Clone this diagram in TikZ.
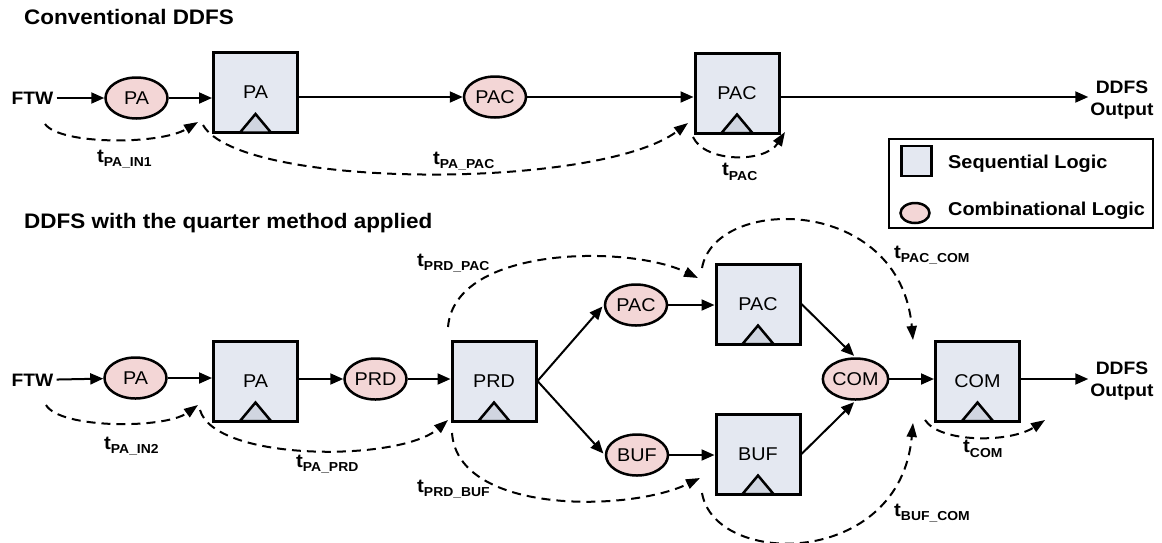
\documentclass[tikz,border=0pt]{standalone}
\usepackage{fontspec}
\setmainfont{Liberation Sans}[FakeStretch=1.07]
\usetikzlibrary{shapes.geometric,arrows.meta}
\definecolor{seqfill}{RGB}{228,232,241}
\definecolor{combfill}{RGB}{243,214,214}
\definecolor{trifill}{RGB}{208,213,224}
\newcommand{\tlab}[1]{t\raisebox{-0.25em}{\fontsize{13}{13}\selectfont #1}}
\begin{document}
\begin{tikzpicture}[x=1pt,y=-1pt,
 seqbox/.style={draw, line width=3pt, fill=seqfill, minimum width=84pt, minimum height=80pt, inner sep=0pt, font=\fontsize{18.5}{18.5}\selectfont},
 combo/.style={ellipse, draw, line width=2.5pt, fill=combfill, minimum width=62pt, minimum height=41pt, inner sep=0pt, font=\fontsize{18.5}{18.5}\selectfont},
 flow/.style={line width=2pt, -{Triangle[length=13pt,width=11pt]}},
 timing/.style={line width=2pt, dash pattern=on 9pt off 6pt, -{Triangle[length=14pt,width=10pt]}},
 tlabel/.style={anchor=west, inner sep=0pt, font=\bfseries\fontsize{19}{19}\selectfont},
 boldtxt/.style={inner sep=0pt, font=\bfseries\fontsize{18}{18}\selectfont},
 legtxt/.style={anchor=base west, inner sep=0pt, font=\bfseries\fontsize{18.6}{18.6}\selectfont},
 outtxt/.style={align=center, inner sep=2pt, font=\bfseries\fontsize{18}{22}\selectfont},
 ttl/.style={anchor=base west, inner sep=0pt, font=\bfseries\fontsize{21}{21}\selectfont},
 tri/.style={line width=2.5pt, fill=trifill, line join=miter},
]
\useasboundingbox (0,0) rectangle (1162,542);

% titles
\node[ttl] (title1) at (24,24.5) {Conventional DDFS};
\node[ttl] (title2) at (24,228) {DDFS with the quarter method applied};

% ---------- top row ----------
\node[boldtxt, inner sep=3pt] (ftw1) at (32.5,98) {FTW};
\node[combo] (pa1e) at (136.5,98) {PA};
\node[seqbox] (pa1b) at (255.5,92.5) {PA};
\node[combo] (pac1e) at (495,97) {PAC};
\node[seqbox] (pac1b) at (737,93) {PAC};
\node[outtxt] (out1) at (1122,100.5) {DDFS\\Output};

\draw[flow] (ftw1) -- (pa1e);
\draw[flow] (pa1e) -- (pa1b.west |- pa1e.east);
\draw[flow] (pa1b.east |- pac1e.west) -- (pac1e);
\draw[flow] (pac1e) -- (pac1b.west |- pac1e.east);
\draw[flow] (pac1b.east |- pac1e.east) -- (out1.west |- pac1e.east);

% ---------- bottom row ----------
\node[boldtxt, inner sep=3pt] (ftw2) at (32.5,380) {FTW};
\node[combo] (pa2e) at (135.5,378) {PA};
\node[seqbox] (pa2b) at (255.5,381) {PA};
\node[combo] (prd2e) at (375.5,379) {PRD};
\node[seqbox] (prd2b) at (494,381) {PRD};
\node[combo] (pac2e) at (636,305) {PAC};
\node[combo] (buf2e) at (637,455) {BUF};
\node[seqbox] (pac2b) at (758,304) {PAC};
\node[seqbox] (buf2b) at (758,454) {BUF};
\node[combo] (com2e) at (855.5,379) {COM};
\node[seqbox] (com2b) at (977.5,381) {COM};
\node[outtxt] (out2) at (1122,381.5) {DDFS\\Output};

\draw[flow] (ftw2) -- (pa2e);
\draw[flow] (pa2e) -- (pa2b.west |- pa2e.east);
\draw[flow] (pa2b.east |- prd2e.west) -- (prd2e);
\draw[flow] (prd2e) -- (prd2b.west |- prd2e.east);
\draw[flow, shorten >=2pt] (prd2b.east) -- (pac2e.west);
\draw[flow, shorten >=2pt] (prd2b.east) -- (buf2e.west);
\draw[flow] (pac2e) -- (pac2b.west |- pac2e.east);
\draw[flow] (buf2e) -- (buf2b.west |- buf2e.east);
\draw[flow, shorten >=2pt] (pac2b.east) -- (com2e.north);
\draw[flow, shorten >=2pt] (buf2b.east) -- (com2e.south);
\draw[flow] (com2e) -- (com2b.west |- com2e.east);
\draw[flow] (com2b.east |- com2e.east) -- (out2.west |- com2e.east);

% clock triangles
\foreach \b in {pa1b,pac1b,pa2b,prd2b,pac2b,buf2b,com2b}
  \filldraw[tri] ([xshift=-15.5pt,yshift=1.5pt]\b.south) -- ([yshift=20pt]\b.south) -- ([xshift=15.5pt,yshift=1.5pt]\b.south) -- cycle;

% ---------- timing paths (top) ----------
\coordinate (a1s) at (45,124);   \coordinate (a1e) at (198,122);
\coordinate (a2s) at (203,125);  \coordinate (a2e) at (688,123);
\coordinate (a3s) at (693,137);  \coordinate (a3e) at (785,132);
\draw[timing] (a1s) .. controls (60,145) and (160,145) .. (a1e);
\draw[timing] (a2s) .. controls (240,190) and (600,190) .. (a2e);
\draw[timing] (a3s) .. controls (705,163) and (765,163) .. (a3e);
\node[tlabel] (l1) at (97,159) {\tlab{PA\_IN1}};
\node[tlabel] (l2) at (433,161) {\tlab{PA\_PAC}};
\node[tlabel] (l3) at (722,172) {\tlab{PAC}};

% ---------- timing paths (bottom) ----------
\coordinate (b1s) at (46,405);   \coordinate (b1e) at (198,405);
\coordinate (b2s) at (200,410);  \coordinate (b2e) at (448,420);
\coordinate (b3s) at (448,327);  \coordinate (b3e) at (698,278);
\coordinate (b4s) at (452,433);  \coordinate (b4e) at (700,478);
\coordinate (b5s) at (702,268);  \coordinate (b5e) at (913,340);
\coordinate (b6s) at (702,493);  \coordinate (b6e) at (913,423);
\coordinate (b7s) at (925,420);  \coordinate (b7e) at (1045,420);
\draw[timing] (b1s) .. controls (60,429) and (165,429) .. (b1e);
\draw[timing] (b2s) .. controls (215,462) and (400,462) .. (b2e);
\draw[timing] (b3s) .. controls (455,245) and (630,245) .. (b3e);
\draw[timing] (b4s) .. controls (458,515) and (630,512) .. (b4e);
\draw[timing] (b5s) .. controls (715,195) and (900,195) .. (b5e);
\draw[timing] (b6s) .. controls (715,568) and (900,568) .. (b6e);
\draw[timing] (b7s) .. controls (940,443) and (1010,443) .. (b7e);
\node[tlabel] (l4) at (104,446) {\tlab{PA\_IN2}};
\node[tlabel] (l5) at (296,464) {\tlab{PA\_PRD}};
\node[tlabel] (l6) at (417,263) {\tlab{PRD\_PAC}};
\node[tlabel] (l7) at (417,489) {\tlab{PRD\_BUF}};
\node[tlabel] (l8) at (894,255) {\tlab{PAC\_COM}};
\node[tlabel] (l9) at (894,513) {\tlab{BUF\_COM}};
\node[tlabel] (l10) at (963,449) {\tlab{COM}};

% ---------- legend ----------
\node[draw, line width=2pt, minimum width=264pt, minimum height=89pt, inner sep=0pt] (legend) at (1021,183.5) {};
\node[draw, line width=2.5pt, fill=seqfill, minimum width=30pt, minimum height=30pt, inner sep=0pt] (legseq) at (916.5,161) {};
\node[ellipse, draw, line width=2.5pt, fill=combfill, minimum width=29pt, minimum height=20pt, inner sep=0pt] (legcomb) at (915,213) {};
\node[legtxt] (legseqt) at (948,168.5) {Sequential Logic};
\node[legtxt] (legcombt) at (948,215) {Combinational Logic};
\end{tikzpicture}
\end{document}
